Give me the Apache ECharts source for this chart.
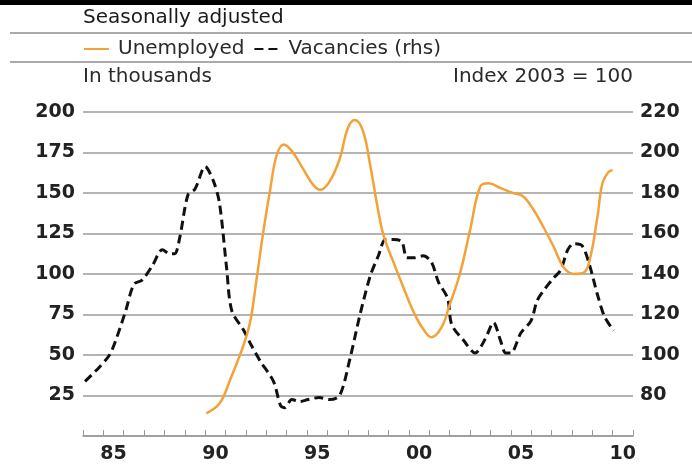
<!DOCTYPE html>
<html>
<head>
<meta charset="utf-8">
<script src="https://cdn.jsdelivr.net/npm/echarts@6/dist/echarts.min.js"></script>
<style>
  html, body { margin: 0; padding: 0; background: #fff; }
  #main { width: 692px; height: 466px; }
</style>
</head>
<body>
<div id="main"></div>
<script>
// 失业人数（千人），按年份读取
var unemployedYears = [1990.05, 1990.7, 1991.2, 1991.85, 1992.2, 1992.5, 1992.85, 1993.2, 1993.5, 1993.85,
    1994.25, 1994.8, 1995.3, 1995.65, 1996.1, 1996.6, 1997.0, 1997.35, 1997.75, 1998.1,
    1998.45, 1998.75, 1999.25, 1999.75, 2000.25, 2000.7, 2001.1, 2001.6, 2002.0, 2002.5,
    2003.0, 2003.5, 2003.9, 2004.5, 2005.1, 2005.6, 2006.1, 2006.6, 2007.1, 2007.6,
    2008.1, 2008.6, 2008.9, 2009.25, 2009.5, 2009.8, 2010.0];
var unemployedValues = [14, 20, 34, 55, 70, 95, 126, 153, 173, 180,
    176, 165, 155, 152, 157, 171, 190, 195, 188, 167,
    142, 124, 107, 91, 76, 66, 61, 67, 81, 100,
    127, 154, 156, 153, 150, 148, 140, 129, 117, 104,
    100, 101, 110, 135, 156, 163, 164];
// 职位空缺指数（2003 = 100，右轴）
var vacancyYears = [1984.1, 1984.8, 1985.3, 1985.6, 1986.1, 1986.5, 1986.9, 1987.4, 1987.9, 1988.25,
    1988.5, 1988.75, 1989.15, 1989.5, 1990.0, 1990.4, 1990.7, 1991.05, 1991.3, 1991.9,
    1992.2, 1992.7, 1993.35, 1993.7, 1993.9, 1994.25, 1994.65, 1995.05, 1995.6, 1996.1,
    1996.6, 1997.1, 1997.6, 1998.1, 1998.5, 1998.85, 1999.25, 1999.65, 1999.9, 2000.25,
    2000.7, 2001.1, 2001.45, 2001.9, 2002.1, 2002.7, 2003.25, 2003.75, 2004.15, 2004.5,
    2004.75, 2005.0, 2005.5, 2006.0, 2006.3, 2006.7, 2007.1, 2007.45, 2007.8, 2008.1,
    2008.5, 2008.85, 2009.25, 2009.6, 2010.05];
var vacancyValues = [87, 94, 100, 107, 122, 135, 137, 144, 152, 150,
    150, 158, 179, 182, 193, 186, 175, 143, 122, 112,
    106, 97, 87, 75, 74, 78, 77, 78, 79, 78,
    80, 98, 120, 139, 149, 157, 157, 156, 148, 148,
    149, 146, 136, 128, 115, 107, 101, 108, 116, 107,
    101, 101, 111, 117, 127, 133, 138, 142, 152, 155,
    154, 145, 130, 119, 112];
// x轴刻度标签
var yearCategories = ['84', '85', '86', '87', '88', '89', '90', '91', '92', '93', '94', '95', '96', '97',
    '98', '99', '00', '01', '02', '03', '04', '05', '06', '07', '08', '09', '10'];
var shownYearLabels = ['85', '90', '95', '00', '05', '10'];

(function(){
    var myChart = echarts.init(document.getElementById('main'));
    var font = 'DejaVu Sans';
    var toPairs = function(xs, ys){
        return xs.map(function(x, i){ return [x, ys[i]]; });
    };
    var option = {
        animation: false,
        backgroundColor: '#fff',
        textStyle: { fontFamily: font },
        graphic: [
            { type: 'rect', left: 0, top: 0, shape: { width: 692, height: 5 }, style: { fill: '#000' } },
            { type: 'text', left: 83, top: 8, style: { text: 'Seasonally adjusted', font: '20px "DejaVu Sans"', fill: '#1a1a1a' } },
            { type: 'rect', left: 10, top: 32, shape: { width: 682, height: 2 }, style: { fill: '#aaa' } },
            { type: 'rect', left: 10, top: 61, shape: { width: 682, height: 2 }, style: { fill: '#aaa' } }
        ],
        legend: {
            left: 83,
            top: 39,
            padding: 0,
            itemWidth: 25,
            itemHeight: 14,
            itemGap: 9,
            data: ['Unemployed', 'Vacancies (rhs)'],
            itemStyle: { opacity: 0 },
            textStyle: { fontFamily: font, fontSize: 20, color: '#2a2a2a', padding: [0, 0, 0, 4] }
        },
        grid: { left: 83, right: 59, top: 112, bottom: 30, containLabel: false },
        xAxis: [{
            type: 'value',
            min: 1984,
            max: 2011,
            interval: 1,
            axisLine: { show: true, lineStyle: { color: '#999', width: 1.5 } },
            axisTick: { show: true, inside: true, length: 6, lineStyle: { color: '#999' } },
            axisLabel: { show: false },
            splitLine: { show: false }
        }, {
            type: 'category',
            position: 'bottom',
            boundaryGap: true,
            data: yearCategories,
            axisLine: { show: false },
            axisTick: { show: false },
            axisLabel: {
                margin: 9,
                fontFamily: font,
                fontSize: 19,
                fontWeight: 'bold',
                color: '#222',
                interval: function(index, value){
                    return shownYearLabels.indexOf(value) >= 0;
                }
            },
            splitLine: { show: false }
        }],
        yAxis: [{
            type: 'value',
            min: 0,
            max: 200,
            interval: 25,
            name: 'In thousands',
            nameLocation: 'end',
            nameGap: 35,
            nameTextStyle: { align: 'left', verticalAlign: 'middle', fontFamily: font, fontSize: 20, color: '#2a2a2a' },
            axisLine: { show: false },
            axisTick: { show: false },
            axisLabel: {
                margin: 8,
                fontFamily: font,
                fontSize: 19,
                fontWeight: 'bold',
                color: '#222',
                formatter: function(v){ return v === 0 ? '' : v; }
            },
            splitLine: { show: true, lineStyle: { color: '#b4b4b4', width: 2 } }
        }, {
            type: 'value',
            min: 60,
            max: 220,
            interval: 20,
            position: 'right',
            name: 'Index 2003 = 100',
            nameLocation: 'end',
            nameGap: 35,
            nameTextStyle: { align: 'right', verticalAlign: 'middle', fontFamily: font, fontSize: 20, color: '#2a2a2a' },
            axisLine: { show: false },
            axisTick: { show: false },
            axisLabel: {
                margin: 7,
                fontFamily: font,
                fontSize: 19,
                fontWeight: 'bold',
                color: '#222',
                formatter: function(v){ return v === 60 ? '' : v; }
            },
            splitLine: { show: false }
        }],
        series: [{
            name: 'Unemployed',
            type: 'line',
            xAxisIndex: 0,
            yAxisIndex: 0,
            data: toPairs(unemployedYears, unemployedValues),
            smooth: 0.4,
            showSymbol: false,
            symbol: 'none',
            z: 3,
            itemStyle: { color: '#f2a238' },
            lineStyle: { color: '#f2a238', width: 2.5 }
        }, {
            name: 'Vacancies (rhs)',
            type: 'line',
            xAxisIndex: 0,
            yAxisIndex: 1,
            data: toPairs(vacancyYears, vacancyValues),
            smooth: 0.3,
            showSymbol: false,
            symbol: 'none',
            z: 2,
            itemStyle: { color: '#111' },
            lineStyle: { color: '#111', width: 3, type: [9, 5] }
        }]
    };
    myChart.setOption(option);
})();
</script>
</body>
</html>
